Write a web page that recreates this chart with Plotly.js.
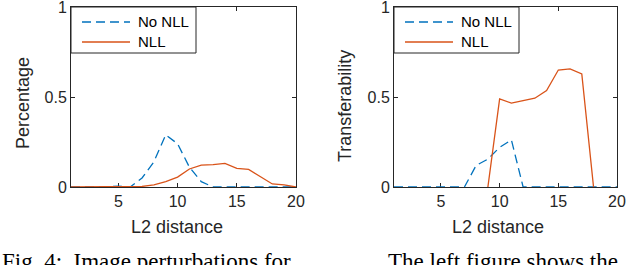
<!DOCTYPE html>
<html>
<head>
<meta charset="utf-8">
<script src="https://cdn.plot.ly/plotly-3.0.1.min.js"></script>
<style>
html,body{margin:0;padding:0;background:#fff;}
#chart{width:640px;height:265px;}
</style>
</head>
<body>
<div id="chart"></div>
<script>
// ---- data ----
const l2Distance = [1,2,3,4,5,6,7,8,9,10,11,12,13,14,15,16,17,18,19,20];
const percentageNoNLL = [0,0,0,0,0.005,0,0.05,0.14,0.29,0.24,0.11,0.03,0,0,0,0,0,0,0,0];
const percentageNLL   = [0,0,0,0,0,0,0.003,0.012,0.03,0.055,0.10,0.122,0.124,0.131,0.104,0.098,0.057,0.017,0.012,0];
const transferNoNLL   = [0,0,0,0,0,0,0,0.12,0.155,0.22,0.262,0,0,0,0,0,0,0,0,0];
const transferNLL     = [null,null,null,null,null,null,null,null,0,0.49,0.466,0.48,0.493,0.536,0.65,0.656,0.628,0,null,null];
const seriesNames = ['No NLL','NLL'];
const xTicks = [5,10,15,20];
const yTicks = [0,0.5,1];
const yTickText = ['0','0.5','1'];
const xTitle = 'L2 distance';
const yTitles = ['Percentage','Transferability'];
const captionLeft = 'Fig. 4:  Image perturbations for';
const captionRight = 'The left figure shows the';

const blue = '#0072BD', orange = '#D95319', axisCol = '#262626';
const W = 640, H = 265;
const font = 'Liberation Sans, Arial, Helvetica, sans-serif';
const serif = 'Liberation Serif, Times New Roman, serif';
const DASH = '9px,5px';

function px(x){return x/W;}
function py(y){return 1 - y/H;}

const traces = [
  {x:l2Distance, y:percentageNoNLL, name:seriesNames[0], mode:'lines', line:{color:blue,width:1.3,dash:DASH}, xaxis:'x', yaxis:'y', cliponaxis:false},
  {x:l2Distance, y:percentageNLL, name:seriesNames[1], mode:'lines', line:{color:orange,width:1.3}, xaxis:'x', yaxis:'y', cliponaxis:false},
  {x:l2Distance, y:transferNoNLL, name:seriesNames[0], mode:'lines', line:{color:blue,width:1.3,dash:DASH}, xaxis:'x2', yaxis:'y2', cliponaxis:false},
  {x:l2Distance, y:transferNLL, name:seriesNames[1], mode:'lines', line:{color:orange,width:1.3}, xaxis:'x2', yaxis:'y2', cliponaxis:false, connectgaps:false}
];

function xa(domain, anchor){
  return {domain:domain, anchor:anchor, range:[1,20], tickvals:xTicks, ticks:'inside', ticklen:4, tickcolor:axisCol,
    showline:true, linecolor:axisCol, linewidth:1, mirror:'ticks', showgrid:false, zeroline:false,
    tickfont:{family:font,size:16,color:'#262626'}, layer:'below traces', fixedrange:true, ticklabeloverflow:'allow'};
}
function ya(domain, anchor){
  return {domain:domain, anchor:anchor, range:[0,1], tickvals:yTicks, ticktext:yTickText, ticks:'inside', ticklen:4, tickcolor:axisCol,
    showline:true, linecolor:axisCol, linewidth:1, mirror:'ticks', showgrid:false, zeroline:false,
    tickfont:{family:font,size:16,color:'#262626'}, layer:'below traces', fixedrange:true, ticklabeloverflow:'allow'};
}
const yDom = [py(187), py(7)];

// legend drawn as a small box with sample lines and labels (one per panel)
function legendParts(left){
  const shapes = [
    {type:'rect', xref:'paper', yref:'paper', x0:px(left), x1:px(left+125), y0:py(7), y1:py(53),
     line:{color:axisCol,width:1}, fillcolor:'#ffffff', layer:'above'},
    {type:'line', xref:'paper', yref:'paper', x0:px(left+11), x1:px(left+59), y0:py(22), y1:py(22),
     line:{color:blue,width:1.3,dash:DASH}, layer:'above'},
    {type:'line', xref:'paper', yref:'paper', x0:px(left+11), x1:px(left+59), y0:py(42), y1:py(42),
     line:{color:orange,width:1.3}, layer:'above'}
  ];
  const ann = [
    {text:seriesNames[0], xref:'paper', yref:'paper', x:px(left+65), y:py(22), xanchor:'left', yanchor:'middle', showarrow:false, font:{family:font,size:15,color:'#000'}},
    {text:seriesNames[1], xref:'paper', yref:'paper', x:px(left+65), y:py(42), xanchor:'left', yanchor:'middle', showarrow:false, font:{family:font,size:15,color:'#000'}}
  ];
  return {shapes, ann};
}
const lg1 = legendParts(71), lg2 = legendParts(394);

const layout = {
  width:W, height:H, margin:{l:0,r:0,t:0,b:0}, paper_bgcolor:'#fff', plot_bgcolor:'#fff',
  showlegend:false,
  xaxis: xa([px(71),px(296)], 'y'),
  yaxis: ya(yDom, 'x'),
  xaxis2: xa([px(394),px(617)], 'y2'),
  yaxis2: ya(yDom, 'x2'),
  shapes: lg1.shapes.concat(lg2.shapes),
  annotations:[
    {text:xTitle, xref:'paper', yref:'paper', x:px(177), y:py(227), xanchor:'center', yanchor:'middle', showarrow:false, font:{family:font,size:18,color:'#262626'}},
    {text:xTitle, xref:'paper', yref:'paper', x:px(498), y:py(227), xanchor:'center', yanchor:'middle', showarrow:false, font:{family:font,size:18,color:'#262626'}},
    {text:yTitles[0], xref:'paper', yref:'paper', x:px(23), y:py(103), xanchor:'center', yanchor:'middle', textangle:-90, showarrow:false, font:{family:font,size:18,color:'#262626'}},
    {text:yTitles[1], xref:'paper', yref:'paper', x:px(345), y:py(106), xanchor:'center', yanchor:'middle', textangle:-90, showarrow:false, font:{family:font,size:18,color:'#262626'}},
    {text:captionLeft, xref:'paper', yref:'paper', x:0, y:py(247), xanchor:'left', yanchor:'top', showarrow:false, font:{family:serif,size:23,color:'#000'}},
    {text:captionRight, xref:'paper', yref:'paper', x:px(386), y:py(247), xanchor:'left', yanchor:'top', showarrow:false, font:{family:serif,size:23,color:'#000'}}
  ].concat(lg1.ann, lg2.ann)
};

Plotly.newPlot('chart', traces, layout, {staticPlot:true, displayModeBar:false});
</script>
</body>
</html>
